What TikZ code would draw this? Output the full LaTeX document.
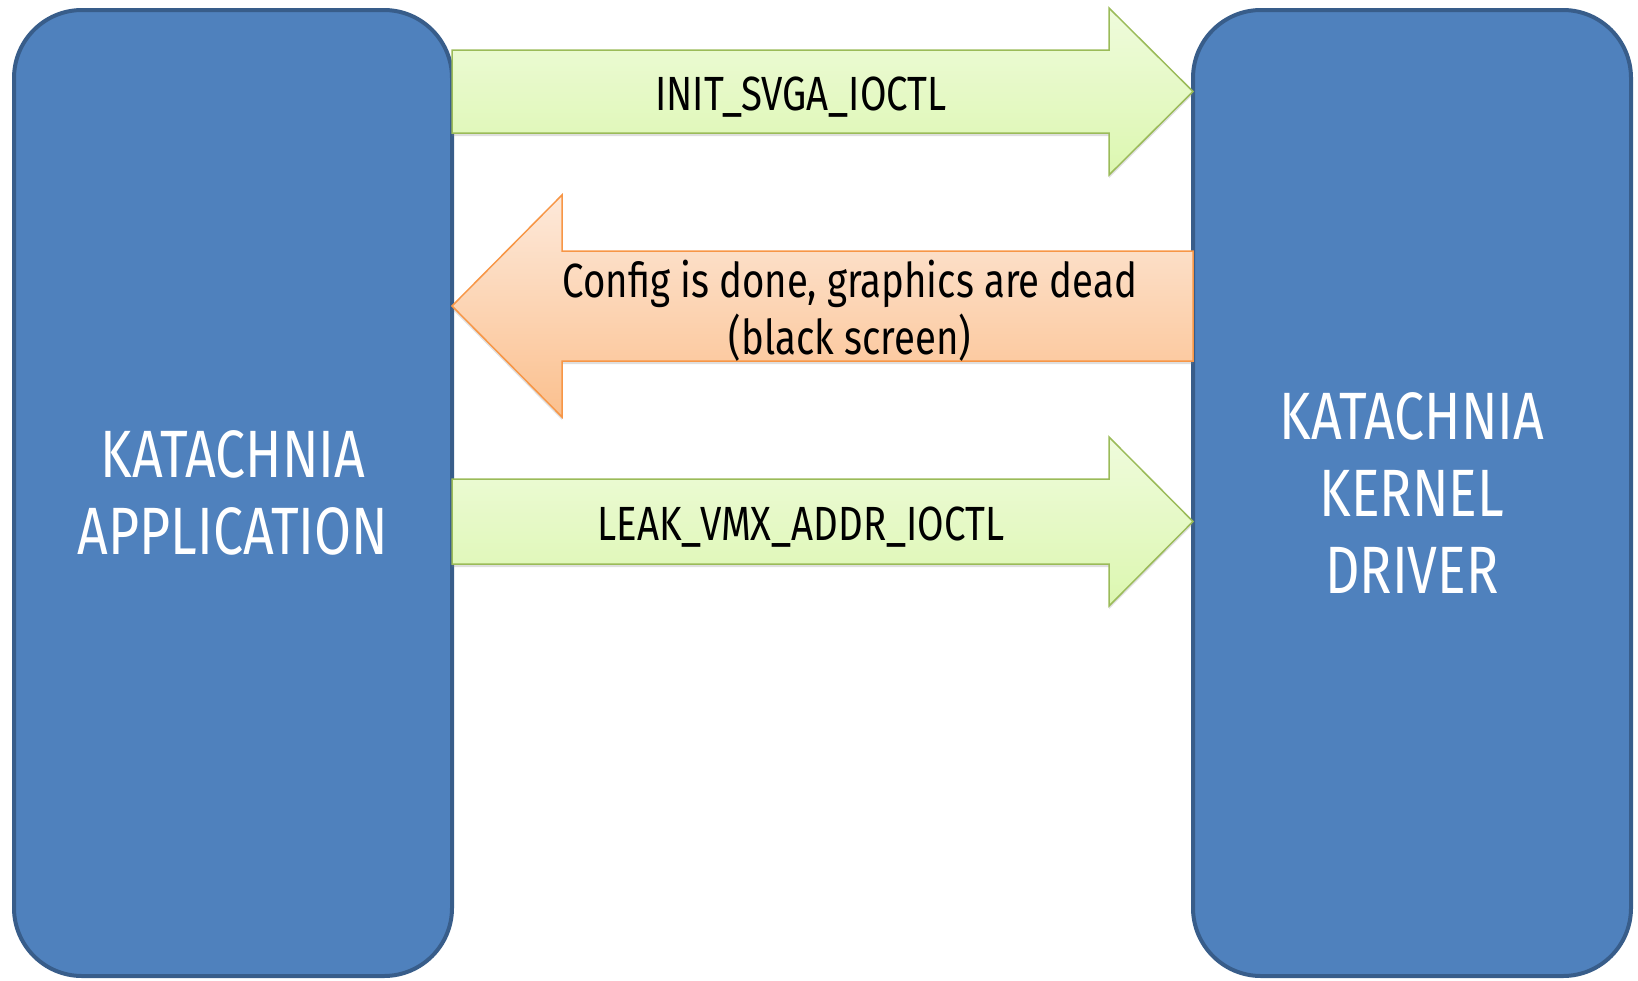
\documentclass[tikz,border=0pt]{standalone}
\usepackage{fontspec}
\setmainfont{Fira Sans}[FakeStretch=0.8]
\usetikzlibrary{positioning, calc, shadows}
\definecolor{BoxBlue}{HTML}{4F81BD}
\definecolor{BoxLine}{HTML}{385D8A}
\definecolor{FwdLine}{HTML}{9BBB59}
\definecolor{FwdTop}{HTML}{EFFBDC}
\definecolor{FwdBot}{HTML}{DCF7B0}
\definecolor{BwdLine}{HTML}{F79646}
\definecolor{BwdTop}{HTML}{FDE9DA}
\definecolor{BwdBot}{HTML}{FBC08E}

\begin{document}
\begin{tikzpicture}[x=1pt, y=-1pt,
  block/.style={draw=BoxLine, line width=4pt, fill=BoxBlue, rounded corners=68pt,
                minimum width=438pt, minimum height=966pt, inner sep=0pt, outer sep=0pt,
                text=white, align=center, font=\fontsize{67}{77}\selectfont},
  fwd/.style={draw=FwdLine, line width=1.5pt, top color=FwdTop, bottom color=FwdBot,
              drop shadow={opacity=0.25, shadow xshift=0pt, shadow yshift=-3pt}},
  bwd/.style={draw=BwdLine, line width=1.5pt, top color=BwdTop, bottom color=BwdBot,
              drop shadow={opacity=0.25, shadow xshift=0pt, shadow yshift=-3pt}},
  lbl/.style={font=\fontsize{48}{57}\selectfont, align=center}]
  \useasboundingbox (0,0) rectangle (1638,980);
  % the two ends
  \node[block] (app) at (233,493) {KATACHNIA\\APPLICATION};
  \node[block] (drv) at (1412,493) {KATACHNIA\\KERNEL\\DRIVER};
  % requests and answer
  \draw[fwd] (app.east |- 0,50) -- (1109,50) -- (1109,8) -- (drv.west |- 0,91.5)
    -- (1109,175) -- (1109,133) -- (app.east |- 0,133) -- cycle;
  \node[lbl, anchor=base] (init) at (801,110) {INIT\_SVGA\_IOCTL};
  \draw[bwd] (drv.west |- 0,251) -- (562,251) -- (562,195) -- (app.east |- 0,306)
    -- (562,417) -- (562,361) -- (drv.west |- 0,361) -- cycle;
  \node[lbl] (done) at (850,311) {Config is done, graphics are dead\\(black screen)};
  \draw[fwd] (app.east |- 0,479) -- (1109,479) -- (1109,437) -- (drv.west |- 0,521.5)
    -- (1109,606) -- (1109,564) -- (app.east |- 0,564) -- cycle;
  \node[lbl, anchor=base] (leak) at (801,540) {LEAK\_VMX\_ADDR\_IOCTL};
\end{tikzpicture}
\end{document}
